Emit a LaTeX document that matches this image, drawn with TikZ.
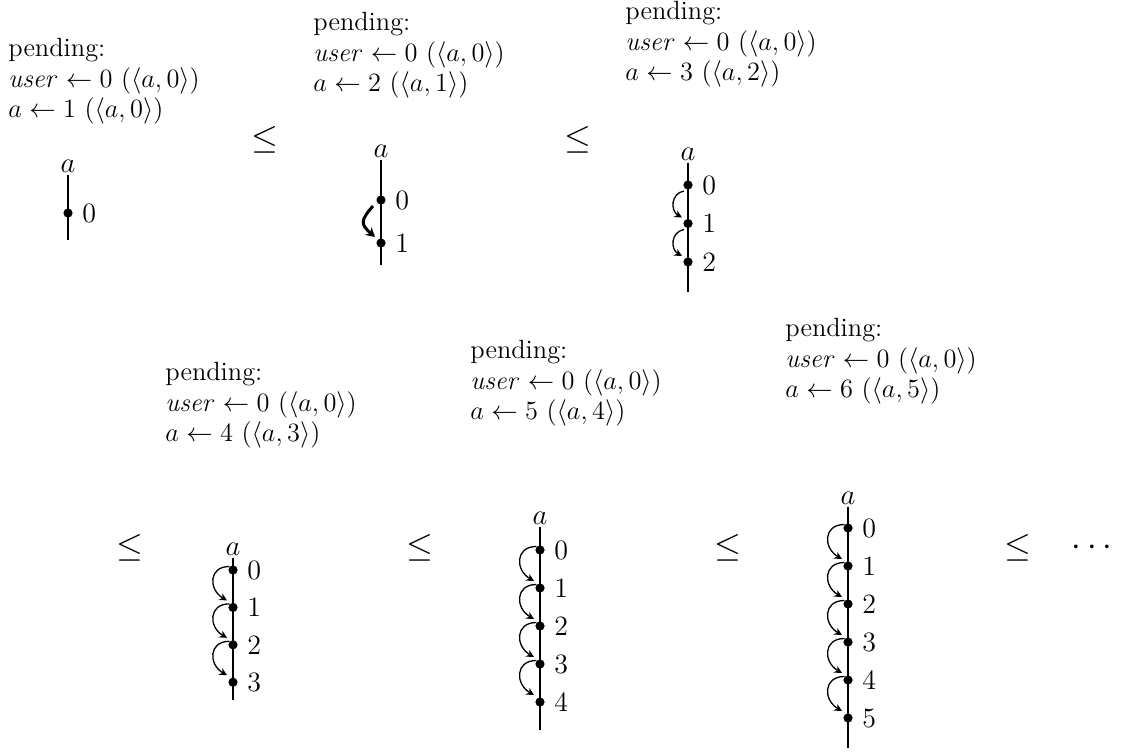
\documentclass[tikz,border=0pt]{standalone}
\usepackage{amsmath}
\usetikzlibrary{
  arrows.meta,
  positioning
}

\begin{document}
\begin{tikzpicture}[
      x=0.5pt, y=0.5pt,
      pend/.style={
        anchor=north west, align=left, inner sep=0pt,
        font=\fontsize{12}{13.8}\selectfont, scale=1.1, transform shape
      },
      rel/.style={font=\fontsize{16}{18}\selectfont},
      dot/.style={circle, fill, inner sep=0pt, minimum size=4.6pt},
      spine/.style={line width=1pt},
      num/.style={font=\fontsize{14}{16}\selectfont, inner sep=0pt, label distance=4.5pt},
      hook/.style={-{Stealth[length=3.8pt,width=3.8pt]}, line width=0.65pt, looseness=1.6},
      lbl/.style={font=\fontsize{14}{16}\selectfont, inner sep=1pt}
    ]
      \useasboundingbox (0,0) rectangle (1127,-751);

      % Pending lists
      \node[pend] (pend1) at (8,-38) {pending:\\
        $\mathit{user}\leftarrow 0\ (\langle a,0\rangle)$\\
        $a\leftarrow 1\ (\langle a,0\rangle)$};
      \node[pend] (pend2) at (313,-12) {pending:\\
        $\mathit{user}\leftarrow 0\ (\langle a,0\rangle)$\\
        $a\leftarrow 2\ (\langle a,1\rangle)$};
      \node[pend] (pend3) at (625,-1) {pending:\\
        $\mathit{user}\leftarrow 0\ (\langle a,0\rangle)$\\
        $a\leftarrow 3\ (\langle a,2\rangle)$};
      \node[pend] (pend4) at (165,-362) {pending:\\
        $\mathit{user}\leftarrow 0\ (\langle a,0\rangle)$\\
        $a\leftarrow 4\ (\langle a,3\rangle)$};
      \node[pend] (pend5) at (470,-340) {pending:\\
        $\mathit{user}\leftarrow 0\ (\langle a,0\rangle)$\\
        $a\leftarrow 5\ (\langle a,4\rangle)$};
      \node[pend] (pend6) at (785,-318) {pending:\\
        $\mathit{user}\leftarrow 0\ (\langle a,0\rangle)$\\
        $a\leftarrow 6\ (\langle a,5\rangle)$};

      % Order signs
      \node[rel] (le1) at (265,-140) {$\leq$};
      \node[rel] (le2) at (578,-140) {$\leq$};
      \node[rel] (le3) at (130,-548) {$\leq$};
      \node[rel] (le4) at (420,-548) {$\leq$};
      \node[rel] (le5) at (728,-548) {$\leq$};
      \node[rel] (le6) at (1018,-548) {$\leq$};
      \node[rel] (etc) at (1095,-548) {$\cdots$};

      % Panel 1
      \coordinate (p1top) at (68,-175);
      \coordinate (p1bot) at (68,-240);
      \draw[spine] (p1top) -- (p1bot);
      \node[dot, label={[num]right:0}] (p1d0) at (68,-213) {};
      \node[lbl, above=0pt of p1top] (p1a) {$a$};

      % Panel 2
      \coordinate (p2top) at (381,-160);
      \coordinate (p2bot) at (381,-265);
      \draw[spine] (p2top) -- (p2bot);
      \foreach \i in {0,1}
        \node[dot, label={[num]right:\i}] (p2d\i) at (381,{-200-43*\i}) {};
      \draw[hook, line width=1.5pt, -{Stealth[length=4.5pt,width=5pt]}]
        ([shift={(-4pt,-3pt)}]p2d0.center) to[bend right=45] ([shift={(-3pt,3pt)}]p2d1.center);
      \node[lbl, above=0pt of p2top] (p2a) {$a$};

      % Panel 3
      \coordinate (p3top) at (688,-163);
      \coordinate (p3bot) at (688,-292);
      \draw[spine] (p3top) -- (p3bot);
      \foreach \i in {0,...,2}
        \node[dot, label={[num]right:\i}] (p3d\i) at (688,{-185-38.5*\i}) {};
      \foreach \i [count=\j] in {0,1}
        \draw[hook, looseness=1.3] ([shift={(-2pt,-3pt)}]p3d\i.center) to[out=190,in=150] ([shift={(-3pt,3pt)}]p3d\j.center);
      \node[lbl, above=0pt of p3top] (p3a) {$a$};

      % Panel 4
      \coordinate (p4top) at (233,-558);
      \coordinate (p4bot) at (233,-700);
      \draw[spine] (p4top) -- (p4bot);
      \foreach \i in {0,...,3}
        \node[dot, label={[num]right:\i}] (p4d\i) at (233,{-570-37.4*\i}) {};
      \foreach \i [count=\j] in {0,...,2}
        \draw[hook] (p4d\i.north west) to[out=180,in=150] ([shift={(-3pt,3.5pt)}]p4d\j.center);
      \node[lbl, above=0pt of p4top] (p4a) {$a$};

      % Panel 5
      \coordinate (p5top) at (540,-527);
      \coordinate (p5bot) at (540,-730);
      \draw[spine] (p5top) -- (p5bot);
      \foreach \i in {0,...,4}
        \node[dot, label={[num]right:\i}] (p5d\i) at (540,{-550-38*\i}) {};
      \foreach \i [count=\j] in {0,...,3}
        \draw[hook] (p5d\i.north west) to[out=180,in=150] ([shift={(-3pt,3.5pt)}]p5d\j.center);
      \node[lbl, above=0pt of p5top] (p5a) {$a$};

      % Panel 6
      \coordinate (p6top) at (848,-507);
      \coordinate (p6bot) at (848,-748);
      \draw[spine] (p6top) -- (p6bot);
      \foreach \i in {0,...,5}
        \node[dot, label={[num]right:\i}] (p6d\i) at (848,{-528-38*\i}) {};
      \foreach \i [count=\j] in {0,...,4}
        \draw[hook] (p6d\i.north west) to[out=180,in=150] ([shift={(-3pt,3.5pt)}]p6d\j.center);
      \node[lbl, above=0pt of p6top] (p6a) {$a$};
    \end{tikzpicture}
\end{document}
